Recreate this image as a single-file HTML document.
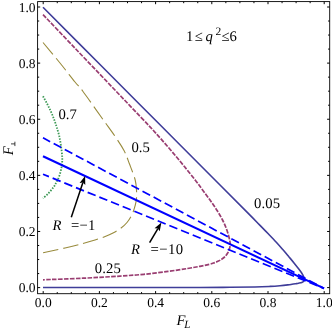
<!DOCTYPE html>
<html><head><meta charset="utf-8"><title>Plot</title>
<style>
html,body{margin:0;padding:0;background:#fff;}
body{width:332px;height:329px;overflow:hidden;font-family:"Liberation Serif",serif;}
svg{display:block;position:absolute;left:0;top:0;}
#w{position:relative;width:332px;height:329px;will-change:transform;}
#t{filter:grayscale(1);}
text{font-family:"Liberation Serif",serif;fill:#000;text-rendering:geometricPrecision;}
</style></head><body><div id="w">
<svg width="332" height="329" viewBox="0 0 332 329">
<rect width="332" height="329" fill="#fff"/>
<path d="M43.20 293.7v-2.6M43.20 1.6v2.6M37.6 287.60h2.6M329.7 287.60h-2.6M57.25 293.7v-1.6M57.25 1.6v1.6M37.6 273.57h1.6M329.7 273.57h-1.6M71.30 293.7v-1.6M71.30 1.6v1.6M37.6 259.54h1.6M329.7 259.54h-1.6M85.35 293.7v-1.6M85.35 1.6v1.6M37.6 245.51h1.6M329.7 245.51h-1.6M99.40 293.7v-2.6M99.40 1.6v2.6M37.6 231.48h2.6M329.7 231.48h-2.6M113.45 293.7v-1.6M113.45 1.6v1.6M37.6 217.45h1.6M329.7 217.45h-1.6M127.50 293.7v-1.6M127.50 1.6v1.6M37.6 203.42h1.6M329.7 203.42h-1.6M141.55 293.7v-1.6M141.55 1.6v1.6M37.6 189.39h1.6M329.7 189.39h-1.6M155.60 293.7v-2.6M155.60 1.6v2.6M37.6 175.36h2.6M329.7 175.36h-2.6M169.65 293.7v-1.6M169.65 1.6v1.6M37.6 161.33h1.6M329.7 161.33h-1.6M183.70 293.7v-1.6M183.70 1.6v1.6M37.6 147.30h1.6M329.7 147.30h-1.6M197.75 293.7v-1.6M197.75 1.6v1.6M37.6 133.27h1.6M329.7 133.27h-1.6M211.80 293.7v-2.6M211.80 1.6v2.6M37.6 119.24h2.6M329.7 119.24h-2.6M225.85 293.7v-1.6M225.85 1.6v1.6M37.6 105.21h1.6M329.7 105.21h-1.6M239.90 293.7v-1.6M239.90 1.6v1.6M37.6 91.18h1.6M329.7 91.18h-1.6M253.95 293.7v-1.6M253.95 1.6v1.6M37.6 77.15h1.6M329.7 77.15h-1.6M268.00 293.7v-2.6M268.00 1.6v2.6M37.6 63.12h2.6M329.7 63.12h-2.6M282.05 293.7v-1.6M282.05 1.6v1.6M37.6 49.09h1.6M329.7 49.09h-1.6M296.10 293.7v-1.6M296.10 1.6v1.6M37.6 35.06h1.6M329.7 35.06h-1.6M310.15 293.7v-1.6M310.15 1.6v1.6M37.6 21.03h1.6M329.7 21.03h-1.6M324.20 293.7v-2.6M324.20 1.6v2.6M37.6 7.00h2.6M329.7 7.00h-2.6" stroke="#000" stroke-width="1" fill="none"/>
<rect x="37.6" y="1.6" width="292.09999999999997" height="292.09999999999997" fill="none" stroke="#000" stroke-width="0.9"/>
<clipPath id="c"><rect x="37.6" y="1.6" width="292.09999999999997" height="292.09999999999997"/></clipPath>
<g clip-path="url(#c)" fill="none" stroke-linecap="butt" stroke-linejoin="round">
<path d="M43.00 7.30 C52.50 16.83 80.50 44.92 100.00 64.50 C119.50 84.08 140.00 104.72 160.00 124.80 C180.00 144.88 205.17 170.12 220.00 185.00 C234.83 199.88 242.45 207.50 249.00 214.10 C255.55 220.70 256.13 221.37 259.30 224.60 C262.47 227.83 265.17 230.57 268.00 233.50 C270.83 236.43 273.80 239.48 276.30 242.20 C278.80 244.92 280.88 247.35 283.00 249.80 C285.12 252.25 287.17 254.72 289.00 256.90 C290.83 259.08 292.40 260.92 294.00 262.90 C295.60 264.88 297.35 267.15 298.60 268.80 C299.85 270.45 300.68 271.55 301.50 272.80 C302.32 274.05 303.00 275.22 303.50 276.30 C304.00 277.38 304.43 278.52 304.50 279.30 C304.57 280.08 304.35 280.48 303.90 281.00 C303.45 281.52 302.70 282.03 301.80 282.40 C300.90 282.77 299.52 282.98 298.50 283.20 C297.48 283.42 296.78 283.52 295.70 283.70 C294.62 283.88 293.32 284.10 292.00 284.30 C290.68 284.50 289.80 284.67 287.80 284.90 C285.80 285.13 282.97 285.45 280.00 285.70 C277.03 285.95 274.17 286.18 270.00 286.40 C265.83 286.62 261.67 286.85 255.00 287.00 C248.33 287.15 239.17 287.23 230.00 287.30 C220.83 287.38 218.33 287.42 200.00 287.45 C181.67 287.48 146.17 287.49 120.00 287.50 C93.83 287.51 55.83 287.50 43.00 287.50" stroke="#3f3d99" stroke-width="1.6"/>
<path d="M43.00 14.60 C48.33 20.20 64.33 37.02 75.00 48.20 C85.67 59.38 97.83 72.10 107.00 81.70 C116.17 91.30 122.83 98.28 130.00 105.80 C137.17 113.32 144.77 121.20 150.00 126.80 C155.23 132.40 157.60 135.10 161.40 139.40 C165.20 143.70 169.00 148.12 172.80 152.60 C176.60 157.08 180.38 161.62 184.20 166.30 C188.02 170.98 192.48 176.55 195.70 180.70 C198.92 184.85 201.00 187.82 203.50 191.20 C206.00 194.58 208.43 197.78 210.70 201.00 C212.97 204.22 215.17 207.42 217.10 210.50 C219.03 213.58 220.78 216.55 222.30 219.50 C223.82 222.45 225.12 225.37 226.20 228.20 C227.28 231.03 228.17 234.20 228.80 236.50 C229.43 238.80 229.78 240.48 230.00 242.00 C230.22 243.52 230.22 244.35 230.10 245.60 C229.98 246.85 229.73 248.22 229.30 249.50 C228.87 250.78 228.23 252.10 227.50 253.30 C226.77 254.50 225.82 255.75 224.90 256.70 C223.98 257.65 223.08 258.27 222.00 259.00 C220.92 259.73 219.73 260.45 218.40 261.10 C217.07 261.75 215.50 262.37 214.00 262.90 C212.50 263.43 211.73 263.73 209.40 264.30 C207.07 264.87 203.65 265.60 200.00 266.30 C196.35 267.00 192.83 267.65 187.50 268.50 C182.17 269.35 175.25 270.43 168.00 271.40 C160.75 272.37 152.00 273.52 144.00 274.30 C136.00 275.08 130.17 275.45 120.00 276.10 C109.83 276.75 95.83 277.58 83.00 278.20 C70.17 278.82 49.67 279.53 43.00 279.80" stroke="#993d71" stroke-width="1.7" stroke-dasharray="4.55 1.35"/>
<path d="M43.00 42.50 C45.83 45.92 54.67 56.42 60.00 63.00 C65.33 69.58 71.17 77.25 75.00 82.00 C78.83 86.75 78.33 85.25 83.00 91.50 C87.67 97.75 97.58 111.92 103.00 119.50 C108.42 127.08 112.00 131.83 115.50 137.00 C119.00 142.17 121.68 146.03 124.00 150.50 C126.32 154.97 127.53 158.88 129.40 163.80 C131.27 168.72 134.00 175.30 135.20 180.00 C136.40 184.70 136.40 188.83 136.60 192.00 C136.80 195.17 136.62 196.83 136.40 199.00 C136.18 201.17 135.98 202.50 135.30 205.00 C134.62 207.50 133.68 211.08 132.30 214.00 C130.92 216.92 128.97 220.08 127.00 222.50 C125.03 224.92 122.83 226.75 120.50 228.50 C118.17 230.25 115.55 231.67 113.00 233.00 C110.45 234.33 108.20 235.33 105.20 236.50 C102.20 237.67 98.70 238.83 95.00 240.00 C91.30 241.17 88.00 242.17 83.00 243.50 C78.00 244.83 71.67 246.47 65.00 248.00 C58.33 249.53 46.67 251.92 43.00 252.70" stroke="#998b3d" stroke-width="1.1" stroke-dasharray="15.45 5"/>
<path d="M43.00 96.20 C43.75 97.58 46.12 101.78 47.50 104.50 C48.88 107.22 50.13 109.83 51.30 112.50 C52.47 115.17 53.58 118.00 54.50 120.50 C55.42 123.00 56.02 124.95 56.80 127.50 C57.58 130.05 58.50 132.72 59.20 135.80 C59.90 138.88 60.50 142.55 61.00 146.00 C61.50 149.45 62.02 153.67 62.20 156.50 C62.38 159.33 62.25 161.00 62.10 163.00 C61.95 165.00 61.77 166.33 61.30 168.50 C60.83 170.67 60.10 173.75 59.30 176.00 C58.50 178.25 57.47 180.13 56.50 182.00 C55.53 183.87 54.92 185.23 53.50 187.20 C52.08 189.17 49.75 191.95 48.00 193.80 C46.25 195.65 43.83 197.55 43.00 198.30" stroke="#3d9956" stroke-width="1.8" stroke-dasharray="1.5 1.35"/>
<path d="M43 156.2 L324 288.4" stroke="#0000ff" stroke-width="2.1"/>
<path d="M43 137.8 L324 288.4" stroke="#0000ff" stroke-width="1.7" stroke-dasharray="8.6 4" stroke-dashoffset="0.5"/>
<path d="M43 174.2 L324 288.4" stroke="#0000ff" stroke-width="1.7" stroke-dasharray="8.6 4" stroke-dashoffset="2.2"/>
</g>
<path d="M71.30 217.20L82.91 182.53" stroke="#000" stroke-width="1.5" fill="none"/><path d="M85.10 176.00L85.28 184.92L82.91 182.53L79.59 183.01Z" fill="#000"/>
<path d="M149.60 242.60L157.90 228.53" stroke="#000" stroke-width="1.5" fill="none"/><path d="M161.40 222.60L159.72 231.36L157.90 228.53L154.55 228.31Z" fill="#000"/>
</svg>
<svg id="t" width="332" height="329" viewBox="0 0 332 329">
<text x="35.6" y="292.10" font-size="13.5" text-anchor="end">0.0</text>
<text x="43.20" y="306.8" font-size="13.5" text-anchor="middle">0.0</text>
<text x="35.6" y="235.98" font-size="13.5" text-anchor="end">0.2</text>
<text x="99.40" y="306.8" font-size="13.5" text-anchor="middle">0.2</text>
<text x="35.6" y="179.86" font-size="13.5" text-anchor="end">0.4</text>
<text x="155.60" y="306.8" font-size="13.5" text-anchor="middle">0.4</text>
<text x="35.6" y="123.74" font-size="13.5" text-anchor="end">0.6</text>
<text x="211.80" y="306.8" font-size="13.5" text-anchor="middle">0.6</text>
<text x="35.6" y="67.62" font-size="13.5" text-anchor="end">0.8</text>
<text x="268.00" y="306.8" font-size="13.5" text-anchor="middle">0.8</text>
<text x="35.6" y="11.50" font-size="13.5" text-anchor="end">1.0</text>
<text x="324.20" y="306.8" font-size="13.5" text-anchor="middle">1.0</text>
<text x="58.5" y="118.8" font-size="14.7">0.7</text>
<text x="131.5" y="152" font-size="14.7">0.5</text>
<text x="254" y="208.1" font-size="14.7" letter-spacing="0.15">0.05</text>
<text x="94.7" y="272.8" font-size="14.7" letter-spacing="0.15">0.25</text>
<text x="52.5" y="230" font-size="14.7"><tspan font-style="italic">R</tspan><tspan dx="9.4" letter-spacing="0.3">=−1</tspan></text>
<text x="131" y="253.8" font-size="14.7"><tspan font-style="italic">R</tspan><tspan dx="10.6" letter-spacing="0.4">=−10</tspan></text>
<text x="186" y="41" font-size="14.7">1<tspan dx="1.5">≤</tspan> <tspan font-style="italic" dx="-1">q</tspan> <tspan dy="-5.9" dx="-1.1" font-size="11.5">2</tspan><tspan dy="5.9" dx="0.3">≤6</tspan></text>
<text x="176.5" y="325.2" font-size="14.7" font-style="italic">F<tspan dy="2.3" dx="-1.2" font-size="11">L</tspan></text>
<text transform="translate(12.9,155.2) rotate(-90)" font-size="14.7" font-style="italic">F</text>
<path d="M14.9 141.7V146.1M14.9 143.9H11.0" stroke="#000" stroke-width="0.75" fill="none"/>
</svg>
</div></body></html>
